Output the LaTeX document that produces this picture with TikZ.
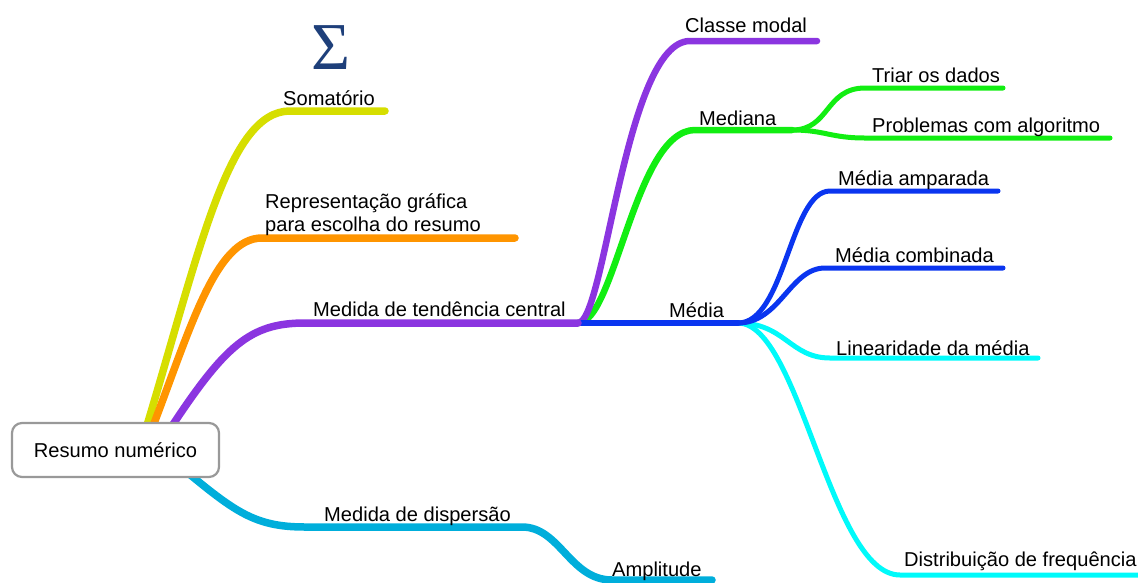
\documentclass[tikz,border=0pt]{standalone}
\usepackage{fontspec}
\setmainfont{Liberation Sans}
\newfontfamily\sigmafont{Liberation Serif}
\definecolor{cyel}{HTML}{D6DE00}
\definecolor{cora}{HTML}{FF9500}
\definecolor{cpur}{HTML}{8B35E0}
\definecolor{cgrn}{HTML}{12EE12}
\definecolor{cblu}{HTML}{0A35F0}
\definecolor{ccya}{HTML}{00FAFA}
\definecolor{cdis}{HTML}{00AEDB}
\definecolor{csig}{HTML}{1E3F7A}
\begin{document}
\begin{tikzpicture}[x=1pt,y=-1pt,
  br/.style={line cap=round, line join=round},
  lone/.style={br, line width=7.5pt},
  ltwo/.style={br, line width=6.5pt},
  lthree/.style={br, line width=5pt},
  lbl/.style={font=\fontsize{20.1}{24}\selectfont, inner sep=0pt, anchor=base west},
  rootbox/.style={draw=black!40, line width=2.2pt, rounded corners=10pt, fill=white,
    minimum width=207pt, minimum height=54pt, inner sep=0pt, font=\fontsize{20.1}{24}\selectfont}]
\useasboundingbox (0,0) rectangle (1138,582);

% coordinates
\coordinate (yA) at (145,432); \coordinate (y1) at (290,111); \coordinate (y2) at (385,111);
\coordinate (oA) at (150,434); \coordinate (o1) at (262,238); \coordinate (o2) at (515,238);
\coordinate (pA) at (168,432); \coordinate (p1) at (305,323); \coordinate (p2) at (578,323);
\coordinate (dA) at (182,468); \coordinate (d1) at (305,527); \coordinate (d2) at (522,527);
\coordinate (d3) at (612,580); \coordinate (d4) at (712,580);
\coordinate (c1) at (690,41); \coordinate (c2) at (817,41);
\coordinate (m1) at (695,130); \coordinate (m2) at (792,130);
\coordinate (t1) at (865,88); \coordinate (t2) at (1003,88);
\coordinate (q1) at (865,138); \coordinate (q2) at (1110,138);
\coordinate (b1) at (738,323);
\coordinate (a1) at (830,191); \coordinate (a2) at (998,191);
\coordinate (k1) at (825,268); \coordinate (k2) at (1003,268);
\coordinate (l1) at (830,358); \coordinate (l2) at (1038,358);
\coordinate (f1) at (900,575); \coordinate (f2) at (1145,575);

% level 1 branches
\draw[lone, cyel] (yA) .. controls (200,250) and (228,111) .. (y1) -- (y2);
\draw[lone, cora] (oA) .. controls (190,330) and (215,238) .. (o1) -- (o2);
\draw[lone, cdis] (dA) .. controls (235,512) and (255,527) .. (d1) -- (d2)
   .. controls (560,527) and (570,580) .. (d3) -- (d4);
% level 2 from tendencia central
\draw[ltwo, cgrn] (p2) .. controls (615,323) and (635,130) .. (m1) -- (m2);
\draw[ltwo, cpur] (p2) .. controls (605,323) and (625,41) .. (c1) -- (c2);
\draw[lthree, cgrn] (m2) .. controls (830,130) and (825,88) .. (t1) -- (t2);
\draw[lthree, cgrn] (m2) .. controls (825,130) and (830,138) .. (q1) -- (q2);
\draw[lthree, ccya] (b1) .. controls (785,323) and (790,358) .. (l1) -- (l2);
\draw[lthree, ccya] (b1) .. controls (800,323) and (830,575) .. (f1) -- (f2);
\draw[lthree, cblu] (b1) .. controls (785,323) and (790,191) .. (a1) -- (a2);
\draw[lthree, cblu] (b1) .. controls (780,323) and (790,268) .. (k1) -- (k2);
\draw[ltwo, cblu] (p2) -- (b1);
\draw[lone, cpur] (pA) .. controls (225,345) and (250,323) .. (p1) -- (p2);

% root
\node[rootbox] (root) at (115.5,450) {Resumo numérico};

% labels
\node[font=\sigmafont\fontsize{67}{67}\selectfont, text=csig, inner sep=0pt] (sigma) at (331,48) {Σ};
\node[lbl] (somatorio) at (283,105) {Somatório};
\node[lbl] (repr1) at (265,208) {Representação gráfica};
\node[lbl] (repr2) at (265,231) {para escolha do resumo};
\node[lbl] (tendencia) at (313,316) {Medida de tendência central};
\node[lbl] (dispersao) at (324,521) {Medida de dispersão};
\node[lbl] (amplitude) at (612,576) {Amplitude};
\node[lbl] (classe) at (685,32) {Classe modal};
\node[lbl] (mediana) at (699,125) {Mediana};
\node[lbl] (triar) at (872,82) {Triar os dados};
\node[lbl] (problemas) at (872,132) {Problemas com algoritmo};
\node[lbl] (media) at (669,317) {Média};
\node[lbl] (amparada) at (838,185) {Média amparada};
\node[lbl] (combinada) at (835,262) {Média combinada};
\node[lbl] (linearidade) at (836,355) {Linearidade da média};
\node[lbl] (distribuicao) at (904,566) {Distribuição de frequência};
\end{tikzpicture}
\end{document}
